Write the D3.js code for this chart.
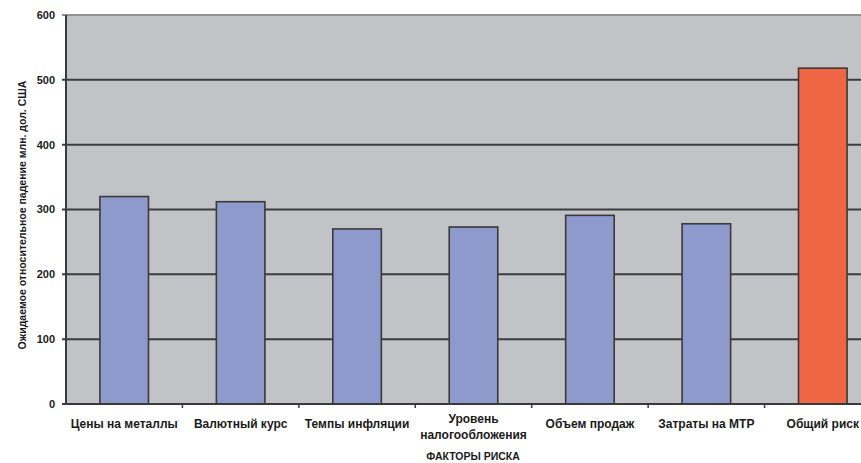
<!DOCTYPE html>
<html><head><meta charset="utf-8">
<script src="https://cdn.jsdelivr.net/npm/d3@7"></script>
<style>body{margin:0;background:#fff}svg{display:block}text{font-family:"Liberation Sans",Arial,sans-serif;font-weight:bold;fill:#1a1a1a}</style>
</head><body>
<svg id="c" width="861" height="463"></svg>
<script>
const categories = ["Цены на металлы","Валютный курс","Темпы инфляции","Уровень налогообложения","Объем продаж","Затраты на МТР","Общий риск"];
const values = [320, 312, 270, 273, 291, 278, 518];
const yTicks = [0,100,200,300,400,500,600];
const yTitle = "Ожидаемое относительное падение млн. дол. США";
const xTitle = "ФАКТОРЫ РИСКА";

const svg = d3.select("#c");
const pL = 66, pR = 881, pT = 15, pB = 404;
const x = d3.scaleBand().domain(categories).range([pL, pR]).paddingInner(0.583).paddingOuter(0.2915);
const xb = d3.scaleBand().domain(categories).range([pL, pR]).padding(0);
const y = d3.scaleLinear().domain([0, 600]).range([pB, pT]);

svg.append("rect").attr("x", pL).attr("y", pT).attr("width", pR - pL).attr("height", pB - pT).attr("fill", "#c1c3c6");

// gridlines
svg.append("g").selectAll("line").data(yTicks.filter(d => d > 0 && d < 600)).join("line")
  .attr("x1", pL - 4).attr("x2", pR).attr("y1", d => y(d)).attr("y2", d => y(d))
  .attr("stroke", "#3c3c3c").attr("stroke-width", 2);
svg.append("line").attr("x1", pL - 4).attr("x2", pR).attr("y1", y(600)).attr("y2", y(600))
  .attr("stroke", "#8f9194").attr("stroke-width", 2);

// bars
svg.append("g").selectAll("rect").data(values).join("rect")
  .attr("x", (d, i) => x(categories[i]))
  .attr("width", x.bandwidth())
  .attr("y", d => y(d))
  .attr("height", d => y(0) - y(d))
  .attr("fill", (d, i) => i === categories.length - 1 ? "#ef6645" : "#8e99cc")
  .attr("stroke", "#3a3a3a").attr("stroke-width", 1.6);

// axes
svg.append("line").attr("x1", pL).attr("x2", pL).attr("y1", pT).attr("y2", pB).attr("stroke", "#3a3a3a").attr("stroke-width", 2);
svg.append("line").attr("x1", pL - 4).attr("x2", pR).attr("y1", pB).attr("y2", pB).attr("stroke", "#3a3a3a").attr("stroke-width", 2);
svg.append("g").selectAll("line").data(categories.slice(1)).join("line")
  .attr("x1", d => xb(d)).attr("x2", d => xb(d)).attr("y1", pB).attr("y2", pB + 4)
  .attr("stroke", "#3a3a3a").attr("stroke-width", 1.5);

// y tick labels
svg.append("g").selectAll("text").data(yTicks).join("text")
  .attr("x", 55).attr("y", d => y(d)).attr("dy", "0.35em")
  .attr("text-anchor", "end").attr("font-size", 11).text(d => d);

// x labels
const xl = svg.append("g").selectAll("text").data(categories).join("text")
  .attr("x", d => xb(d) + xb.bandwidth() / 2)
  .attr("text-anchor", "middle").attr("font-size", 12);
xl.each(function(d) {
  const t = d3.select(this);
  if (d === "Уровень налогообложения") {
    t.append("tspan").attr("x", xb(d) + xb.bandwidth() / 2).attr("y", 423).text("Уровень");
    t.append("tspan").attr("x", xb(d) + xb.bandwidth() / 2).attr("y", 439).text("налогообложения");
  } else {
    t.attr("y", 428).text(d);
  }
});

svg.append("text").attr("x", 473).attr("y", 460).attr("text-anchor", "middle").attr("font-size", 10.5).text(xTitle);
svg.append("text").attr("transform", "translate(26,215) rotate(-90)").attr("text-anchor", "middle").attr("font-size", 10.5).text(yTitle);
</script>
</body></html>
